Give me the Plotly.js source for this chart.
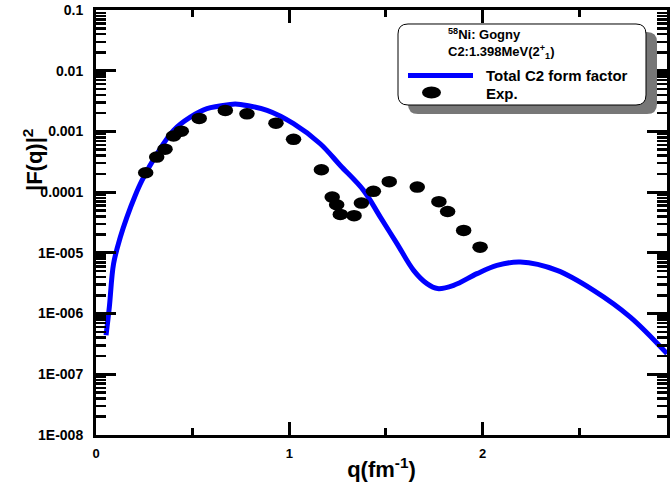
<!DOCTYPE html>
<html>
<head>
<meta charset="utf-8">
<script src="https://cdn.plot.ly/plotly-3.0.1.min.js"></script>
<style>
  html, body { margin: 0; padding: 0; background: #ffffff; }
  #chart { width: 670px; height: 486px; }
</style>
</head>
<body>
<div id="chart"></div>
<script>
// ---- Data ----
// Total C2 form factor (theory curve)
const curveQ = [0.052, 0.069, 0.091, 0.126, 0.160, 0.203, 0.238, 0.316, 0.401, 0.488, 0.574, 0.695, 0.720, 0.747, 0.885, 1.022, 1.160, 1.264, 1.384, 1.471, 1.557, 1.643, 1.712, 1.767, 1.850, 1.971, 2.074, 2.195, 2.385, 2.574, 2.764, 2.954];
const curveF2 = [4.39e-7, 1.28e-6, 6.64e-6, 1.82e-5, 3.89e-5, 8.83e-5, 1.56e-4, 4.30e-4, 1.04e-3, 1.72e-3, 2.37e-3, 2.78e-3, 2.82e-3, 2.78e-3, 2.22e-3, 1.34e-3, 6.27e-4, 2.75e-4, 1.07e-4, 3.88e-5, 1.42e-5, 5.15e-6, 3.11e-6, 2.58e-6, 2.92e-6, 4.55e-6, 6.22e-6, 7.06e-6, 5.15e-6, 2.42e-6, 8.77e-7, 2.19e-7];
// Experimental points
const expQ = [0.257, 0.314, 0.357, 0.401, 0.441, 0.534, 0.669, 0.781, 0.931, 1.022, 1.166, 1.222, 1.245, 1.264, 1.335, 1.373, 1.435, 1.517, 1.662, 1.774, 1.819, 1.902, 1.987];
const expF2 = [2.09e-4, 3.78e-4, 5.10e-4, 8.40e-4, 1.01e-3, 1.64e-3, 2.22e-3, 1.95e-3, 1.37e-3, 7.40e-4, 2.34e-4, 8.30e-5, 6.20e-5, 4.30e-5, 4.10e-5, 6.60e-5, 1.03e-4, 1.49e-4, 1.21e-4, 6.97e-5, 4.80e-5, 2.34e-5, 1.24e-5];
// Tick labels
const yTickVals = [1e-1, 1e-2, 1e-3, 1e-4, 1e-5, 1e-6, 1e-7, 1e-8];
const yTickText = ['0.1', '0.01', '0.001', '0.0001', '1E-005', '1E-006', '1E-007', '1E-008'];
const xTickVals = [0, 1, 2];
const xTickText = ['0', '1', '2'];
// Legend texts
const legendTitle = '<sup>58</sup>Ni: Gogny<br>C2:1.398MeV(2<sup>+</sup><sub>1</sub>)';
const seriesNames = ['Total C2 form factor', 'Exp.'];

// ---- Layout helpers (pixel -> paper) ----
const W = 670, H = 486;
const M = { l: 96, r: 3, t: 10, b: 51 };
const PW = W - M.l - M.r, PH = H - M.t - M.b;
const px = p => (p - M.l) / PW;
const py = p => (H - M.b - p) / PH;
function roundRectPath(x0, y0, x1, y1, r) {
  const P = (x, y) => px(x).toFixed(5) + ',' + py(y).toFixed(5);
  return 'M' + P(x0 + r, y0) + ' L' + P(x1 - r, y0) + ' Q' + P(x1, y0) + ' ' + P(x1, y0 + r) +
         ' L' + P(x1, y1 - r) + ' Q' + P(x1, y1) + ' ' + P(x1 - r, y1) +
         ' L' + P(x0 + r, y1) + ' Q' + P(x0, y1) + ' ' + P(x0, y1 - r) +
         ' L' + P(x0, y0 + r) + ' Q' + P(x0, y0) + ' ' + P(x0 + r, y0) + ' Z';
}

const FONT = 'Arial, "Liberation Sans", sans-serif';

const traces = [
  {
    x: curveQ, y: curveF2, name: seriesNames[0], type: 'scatter', mode: 'lines',
    line: { color: '#0000ff', width: 5, shape: 'spline', smoothing: 1.0 },
    showlegend: false, hoverinfo: 'skip'
  },
  {
    x: expQ, y: expF2, name: seriesNames[1], type: 'scatter', mode: 'markers',
    marker: { color: '#000000', size: 11.5, symbol: 'circle' },
    showlegend: false, hoverinfo: 'skip'
  }
];

const layout = {
  width: W, height: H,
  margin: M,
  paper_bgcolor: '#ffffff', plot_bgcolor: '#ffffff',
  font: { family: FONT, color: '#000000' },
  showlegend: false,
  xaxis: {
    range: [0, PW / 193.3],
    showgrid: false, zeroline: false,
    showline: true, linewidth: 3, linecolor: '#000000', mirror: 'ticks',
    ticks: 'inside', ticklen: 13, tickwidth: 3, tickcolor: '#000000',
    tickmode: 'array', tickvals: xTickVals, ticktext: xTickText,
    tickfont: { family: FONT, size: 13, weight: 'bold' },
    ticklabelstandoff: 4,
    minor: { tick0: 0, dtick: 0.5, ticks: 'inside', ticklen: 7, tickwidth: 3, tickcolor: '#000000' },
    title: { text: 'q(fm<sup>-1</sup>)', font: { family: FONT, size: 22, weight: 'bold' }, standoff: 3 },
    automargin: false
  },
  yaxis: {
    type: 'log', range: [-8, -1],
    showgrid: false, zeroline: false,
    showline: true, linewidth: 3, linecolor: '#000000', mirror: 'ticks',
    ticks: 'inside', ticklen: 20, tickwidth: 3, tickcolor: '#000000',
    tickmode: 'array', tickvals: yTickVals, ticktext: yTickText,
    tickfont: { family: FONT, size: 14, weight: 'bold' },
    ticklabelstandoff: 7,
    minor: { dtick: 'D1', ticks: 'inside', ticklen: 10, tickwidth: 2.5, tickcolor: '#000000' },
    automargin: false
  },
  shapes: [
    { type: 'path', xref: 'paper', yref: 'paper', path: roundRectPath(408, 32, 657, 114, 10),
      fillcolor: '#777777', line: { width: 0 }, layer: 'above' },
    { type: 'path', xref: 'paper', yref: 'paper', path: roundRectPath(398, 24, 646, 105, 10),
      fillcolor: '#ffffff', line: { color: '#000000', width: 1 }, layer: 'above' },
    { type: 'line', xref: 'paper', yref: 'paper', x0: px(408), x1: px(473), y0: py(75.5), y1: py(75.5),
      line: { color: '#0000ff', width: 5 }, layer: 'above' },
    { type: 'circle', xref: 'paper', yref: 'paper', x0: px(422), x1: px(441), y0: py(86.5), y1: py(98.5),
      fillcolor: '#000000', line: { width: 0 }, layer: 'above' }
  ],
  annotations: [
    { xref: 'paper', yref: 'paper', x: px(446), y: py(44), xanchor: 'left', yanchor: 'middle',
      text: legendTitle, align: 'left', showarrow: false,
      font: { family: FONT, size: 13, weight: 'bold' } },
    { xref: 'paper', yref: 'paper', x: px(484), y: py(75.5), xanchor: 'left', yanchor: 'middle',
      text: seriesNames[0], showarrow: false, font: { family: FONT, size: 15, weight: 'bold' } },
    { xref: 'paper', yref: 'paper', x: px(484), y: py(93), xanchor: 'left', yanchor: 'middle',
      text: seriesNames[1], showarrow: false, font: { family: FONT, size: 15, weight: 'bold' } },
    { xref: 'paper', yref: 'paper', x: px(33), y: py(160), xanchor: 'center', yanchor: 'middle',
      text: '|F(q)|<sup>2</sup>', textangle: -90, showarrow: false,
      font: { family: FONT, size: 22, weight: 'bold' } }
  ]
};

Plotly.newPlot('chart', traces, layout, { staticPlot: true, displayModeBar: false }).then(function () {
  // experimental markers are slightly elliptical in the reference
  document.querySelectorAll('.scatterlayer path.point').forEach(function (p) {
    const t = p.getAttribute('transform') || '';
    p.setAttribute('transform', t + ' scale(1.35,1)');
  });
});
</script>
</body>
</html>
